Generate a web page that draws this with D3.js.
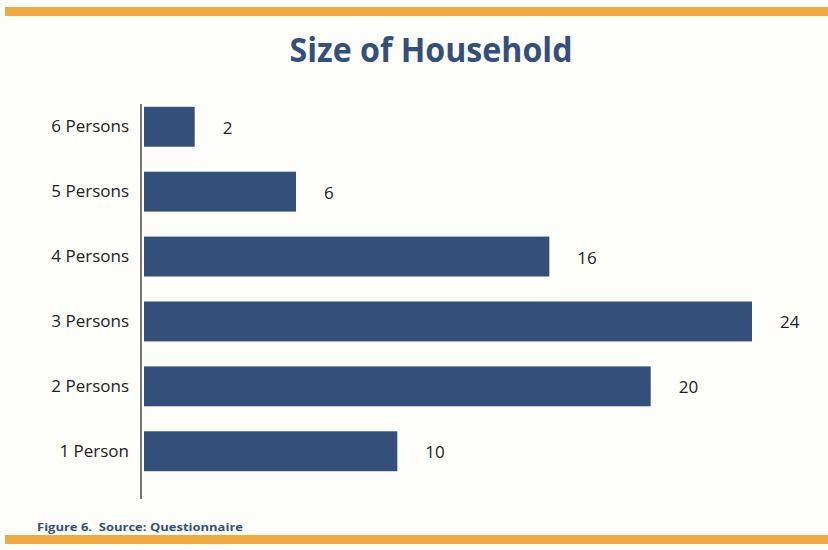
<!DOCTYPE html>
<html>
<head>
<meta charset="utf-8">
<script src="https://cdn.jsdelivr.net/npm/d3@7"></script>
<style>
  html, body { margin: 0; padding: 0; background: #fdfdfa; }
  svg { display: block; }
</style>
</head>
<body>
<svg id="chart" width="828" height="550"></svg>
<script>
// Household size survey counts
const categories = ["6 Persons", "5 Persons", "4 Persons", "3 Persons", "2 Persons", "1 Person"];
const counts = [2, 6, 16, 24, 20, 10];

const svg = d3.select("#chart");
const W = 828, H = 550;
const navy = "#34507a";
const orange = "#f1a83e";

svg.append("rect").attr("width", W).attr("height", H).attr("fill", "#fdfdfa");

// Orange rules top and bottom
svg.append("rect").attr("x", 5).attr("y", 7).attr("width", W - 5).attr("height", 9).attr("fill", orange);
svg.append("rect").attr("x", 5).attr("y", 535).attr("width", W - 5).attr("height", 9).attr("fill", orange);

// Title
svg.append("text")
  .attr("x", 431).attr("y", 62)
  .attr("text-anchor", "middle")
  .attr("font-family", "'Open Sans', sans-serif")
  .attr("font-weight", 700)
  .attr("font-size", 34)
  .attr("textLength", 283)
  .attr("lengthAdjust", "spacingAndGlyphs")
  .attr("fill", navy)
  .text("Size of Household");

const x0 = 144;
const x = d3.scaleLinear().domain([0, 24]).range([x0, 752]);
const y = d3.scaleBand().domain(categories).range([99, 479]).paddingInner(0.385).paddingOuter(0.12);

// Bars
svg.append("g").selectAll("rect")
  .data(categories)
  .join("rect")
  .attr("x", x(0))
  .attr("y", d => y(d))
  .attr("width", (d, i) => x(counts[i]) - x(0))
  .attr("height", y.bandwidth())
  .attr("fill", navy);

// Value labels
svg.append("g").selectAll("text")
  .data(categories)
  .join("text")
  .attr("x", (d, i) => x(counts[i]) + 28)
  .attr("y", d => y(d) + y.bandwidth() / 2 + 7)
  .attr("font-family", "'Open Sans', sans-serif")
  .attr("font-size", 17)
  .attr("fill", "#222")
  .text((d, i) => counts[i]);

// Category axis
const axis = d3.axisLeft(y).tickSize(0).tickPadding(12);
const g = svg.append("g").attr("transform", "translate(141,0)").call(axis);
g.select(".domain").remove();
g.selectAll("text")
  .attr("font-family", "'Open Sans', sans-serif")
  .attr("font-size", 17)
  .attr("fill", "#222");
svg.append("line")
  .attr("x1", 141).attr("x2", 141)
  .attr("y1", 104).attr("y2", 499)
  .attr("stroke", "#777").attr("stroke-width", 2);

// Footer
svg.append("text")
  .attr("x", 37).attr("y", 531)
  .attr("font-family", "'Open Sans', sans-serif")
  .attr("font-weight", 700)
  .attr("font-size", 11)
  .attr("textLength", 206)
  .attr("lengthAdjust", "spacingAndGlyphs")
  .attr("fill", navy)
  .attr("xml:space", "preserve")
  .text("Figure 6.  Source: Questionnaire");
</script>
</body>
</html>
